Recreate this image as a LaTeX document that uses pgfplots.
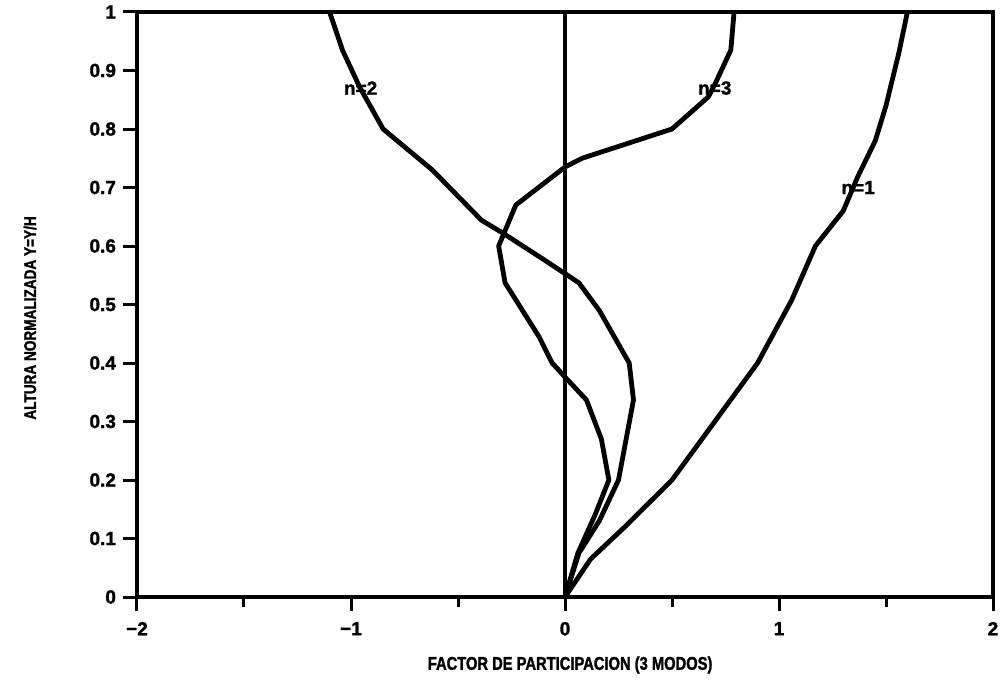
\documentclass[border=0pt]{standalone}
\usepackage{fontspec}
\setmainfont{Liberation Sans}
\newfontfamily\heavy[FakeBold=1.5]{Liberation Sans Bold}
\newfontfamily\heavycond[FakeBold=1.5,FakeStretch=0.8]{Liberation Sans Bold}
\usepackage{pgfplots}
\pgfplotsset{compat=1.18}
\usetikzlibrary{calc}
\begin{document}
\begin{tikzpicture}
\begin{axis}[
  width=428pt, height=292.5pt, scale only axis,
  xmin=-2, xmax=2, ymin=0, ymax=1,
  axis line style={line width=1.8pt},
  tick pos=left, tick align=outside,
  xtick={-2,-1,0,1,2}, xticklabels={−2,−1,0,1,2},
  minor xtick={-1.5,-0.5,0.5,1.5},
  ytick={0,0.1,0.2,0.3,0.4,0.5,0.6,0.7,0.8,0.9,1},
  yticklabels={0,0.1,0.2,0.3,0.4,0.5,0.6,0.7,0.8,0.9,1},
  major tick length=7pt, minor tick length=5pt,
  every tick/.style={black, line width=1.5pt},
  every minor tick/.style={black, line width=1.5pt},
  tick label style={font=\heavy\fontsize{9.5}{11}\selectfont},
  xticklabel style={yshift=-2pt},
  xlabel={FACTOR DE PARTICIPACION (3 MODOS)},
  ylabel={ALTURA NORMALIZADA Y=Y/H},
  every axis x label/.style={at={(rel axis cs:0.506,0)}, yshift=-34pt, anchor=center, font=\heavycond\fontsize{9.2}{11}\selectfont},
  every axis y label/.style={at={(rel axis cs:-0.125,0.477)}, rotate=90, anchor=center, font=\heavycond\fontsize{8.5}{10}\selectfont},
  clip=false,
]
\coordinate (SW) at (rel axis cs:0,0);
\coordinate (NE) at (rel axis cs:1,1);
% vertical line at x = 0
\addplot[black, line width=1.8pt] coordinates {(0,0) (0,1)};
% n = 1
\addplot[black, line width=2.4pt, line join=round] coordinates {
(0,0) (0.12,0.065) (0.28,0.12) (0.5,0.2) (0.72,0.31) (0.9,0.4) (1.06,0.508)
(1.17,0.6) (1.3,0.66) (1.37,0.72) (1.45,0.78) (1.5,0.84) (1.56,0.93) (1.6,1)};
% n = 2
\addplot[black, line width=2.4pt, line join=round] coordinates {
(0,0) (0.065,0.075) (0.16,0.13) (0.25,0.2) (0.32,0.337) (0.30,0.40) (0.16,0.49)
(0.065,0.537) (-0.075,0.571) (-0.29,0.622) (-0.39,0.644) (-0.62,0.73)
(-0.85,0.80) (-0.96,0.872) (-1.04,0.935) (-1.10,1)};
% n = 3
\addplot[black, line width=2.4pt, line join=round] coordinates {
(0,0) (0.06,0.075) (0.14,0.14) (0.205,0.2) (0.17,0.27) (0.1,0.337) (0,0.376)
(-0.06,0.4) (-0.12,0.444) (-0.23,0.508) (-0.28,0.537) (-0.31,0.6) (-0.23,0.67)
(0,0.735) (0.08,0.75) (0.5,0.8) (0.67,0.855) (0.705,0.88) (0.775,0.935) (0.79,1)};
\node[font=\heavy\fontsize{9.5}{11}\selectfont] at (axis cs:-0.955,0.87) {n=2};
\node[font=\heavy\fontsize{9.5}{11}\selectfont] at (axis cs:0.70,0.87) {n=3};
\node[font=\heavy\fontsize{9.5}{11}\selectfont] at (axis cs:1.37,0.70) {n=1};
\end{axis}
\pgfresetboundingbox
\path ($(SW)+(-68.5pt,-42pt)$) rectangle ($(NE)+(3.5pt,6pt)$);
\end{tikzpicture}
\end{document}
